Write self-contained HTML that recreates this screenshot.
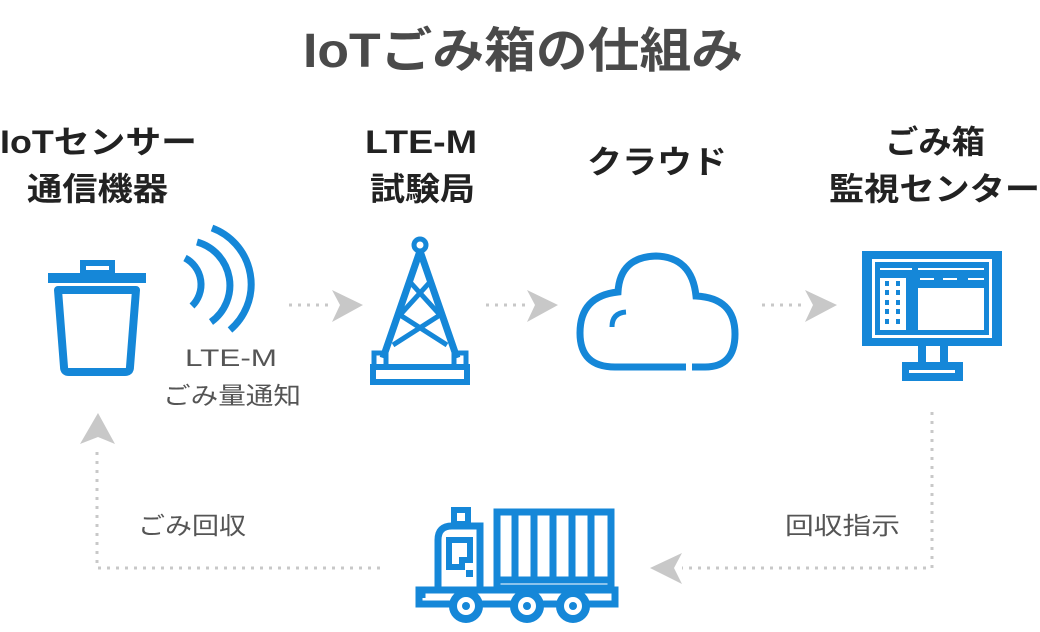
<!DOCTYPE html>
<html><head><meta charset="utf-8"><style>
html,body{margin:0;padding:0;background:#fff;width:1040px;height:632px;overflow:hidden}
svg{display:block}
.h{font-family:"Liberation Sans","Noto Sans CJK JP",sans-serif;font-weight:bold;fill:#222;font-size:32px}
.t{font-family:"Liberation Sans","Noto Sans CJK JP",sans-serif;fill:#555;font-size:24px}
</style></head><body>
<svg width="1040" height="632" viewBox="0 0 1040 632" xmlns="http://www.w3.org/2000/svg">
<text x="303" y="67" textLength="440" lengthAdjust="spacingAndGlyphs" style="font-family:'Liberation Sans','Noto Sans CJK JP',sans-serif;font-weight:bold;font-size:48px;fill:#4a4a4a">IoTごみ箱の仕組み</text>

<text class="h" x="0" y="153" textLength="197" lengthAdjust="spacingAndGlyphs">IoTセンサー</text>
<text class="h" x="27" y="200" textLength="141" lengthAdjust="spacingAndGlyphs">通信機器</text>
<text class="h" x="365" y="153" textLength="112" lengthAdjust="spacingAndGlyphs">LTE-M</text>
<text class="h" x="370" y="200" textLength="105" lengthAdjust="spacingAndGlyphs">試験局</text>
<text class="h" x="587" y="173" textLength="140" lengthAdjust="spacingAndGlyphs">クラウド</text>
<text class="h" x="885" y="153" textLength="100" lengthAdjust="spacingAndGlyphs">ごみ箱</text>
<text class="h" x="829" y="200" textLength="211" lengthAdjust="spacingAndGlyphs">監視センター</text>

<text class="t" x="185" y="366" textLength="92" lengthAdjust="spacingAndGlyphs">LTE-M</text>
<text class="t" x="163" y="404" textLength="138" lengthAdjust="spacingAndGlyphs">ごみ量通知</text>
<text class="t" x="138" y="534" textLength="108" lengthAdjust="spacingAndGlyphs">ごみ回収</text>
<text class="t" x="785" y="534" textLength="115" lengthAdjust="spacingAndGlyphs">回収指示</text>

<g stroke="#1587d8" fill="none" stroke-width="7">
<!-- trash -->
<rect x="83" y="263" width="29" height="10" stroke-width="6"/>
<line x1="48" y1="278" x2="146" y2="278" stroke-width="10"/>
<path d="M58 290 L136 290 L130 367 Q130 372 125 372 L69 372 Q64 372 64 367 Z" stroke-width="8" stroke-linejoin="round"/>
<!-- waves -->
<path d="M185 258 A30 30 0 0 1 192 306" />
<path d="M197 242 A45 45 0 0 1 211 322" />
<path d="M212 228 A60 60 0 0 1 230 330" />
<!-- tower -->
<circle cx="420" cy="245" r="6" stroke-width="5"/>
<path d="M420 251 L383 358 M420 251 L457 358" />
<path d="M410 282 L440 315 L393 345 M430 282 L400 315 L447 345" stroke-width="5"/>
<rect x="374" y="353" width="12" height="14" stroke-width="5"/>
<rect x="454" y="353" width="12" height="14" stroke-width="5"/>
<rect x="373" y="367" width="94" height="15" stroke-width="6"/>
<!-- cloud -->
<path d="M690 367 L705 367 Q735 367 735 334 Q735 298 696 296 Q692 257 656 256 Q620 257 618 292 Q580 296 580 333 Q580 367 615 367 L690 367" stroke-width="7"/>
<line x1="689" y1="363" x2="689" y2="371" stroke="#fff" stroke-width="6"/>
<path d="M612 327 Q612 313 626 312" stroke-width="5"/>
</g>
<g fill="#1587d8">
<!-- monitor -->
<rect x="862" y="251" width="140" height="95"/>
<rect x="872" y="259" width="120" height="79" fill="#fff"/>
<rect x="875" y="262" width="114" height="73"/>
<rect x="880" y="278" width="26" height="52" fill="#fff"/>
<g fill="#1587d8"><rect x="885" y="281" width="4" height="5"/><rect x="896" y="281" width="4" height="5"/><rect x="885" y="290" width="4" height="5"/><rect x="896" y="290" width="4" height="5"/><rect x="885" y="300" width="4" height="5"/><rect x="896" y="300" width="4" height="5"/><rect x="885" y="309" width="4" height="5"/><rect x="896" y="309" width="4" height="5"/><rect x="885" y="319" width="4" height="5"/><rect x="896" y="319" width="4" height="5"/></g>
<rect x="918" y="288" width="66" height="42" fill="#fff"/>
<rect x="880" y="268" width="32" height="2" fill="#fff"/>
<rect x="918" y="268" width="66" height="2" fill="#fff"/>
<rect x="920" y="278" width="14" height="2" fill="#fff"/><rect x="943" y="278" width="14" height="2" fill="#fff"/><rect x="968" y="278" width="16" height="2" fill="#fff"/>
<rect x="918" y="346" width="30" height="18"/>
<rect x="926" y="346" width="14" height="16" fill="#fff"/>
<rect x="902" y="362" width="61" height="19"/>
<rect x="909" y="370" width="46" height="3" fill="#fff"/>
</g>
<!-- truck -->
<g stroke="#1587d8" fill="none" stroke-width="7">
<rect x="497" y="512" width="114" height="71"/>
<line x1="515" y1="512" x2="515" y2="580"/><line x1="534" y1="512" x2="534" y2="580"/><line x1="553" y1="512" x2="553" y2="580"/><line x1="572" y1="512" x2="572" y2="580"/><line x1="591" y1="512" x2="591" y2="580"/>
<rect x="497" y="580" width="114" height="8" fill="#fff"/>
<line x1="497" y1="590" x2="611" y2="590" stroke-width="5"/>
<path d="M422 598 L422 590 L438 590 L438 540 Q438 526 452 526 L480 526 L480 590 L497 590"/>
<rect x="454" y="510" width="14" height="14" stroke-width="6"/>
<path d="M449 540 L470 540 L470 560 L462 560 L462 567 L449 567 Z" stroke-width="6"/>
<rect x="466" y="570" width="7" height="7" fill="#1587d8" stroke="none"/>
<rect x="419" y="590" width="196" height="14"/>
<circle cx="466" cy="606" r="13" fill="#fff" stroke-width="8"/><circle cx="466" cy="606" r="4" fill="#1587d8" stroke="none"/>
<circle cx="527" cy="606" r="13" fill="#fff" stroke-width="8"/><circle cx="527" cy="606" r="4" fill="#1587d8" stroke="none"/>
<circle cx="573" cy="606" r="13" fill="#fff" stroke-width="8"/><circle cx="573" cy="606" r="4" fill="#1587d8" stroke="none"/>
</g>
<!-- connectors -->
<g stroke="#c8c8c8" stroke-width="3" stroke-dasharray="3 6" fill="none">
<line x1="289" y1="305" x2="332" y2="305"/>
<line x1="486" y1="305" x2="528" y2="305"/>
<line x1="762" y1="305" x2="805" y2="305"/>
<path d="M932 412 L932 568 L682 568"/>
<path d="M380 568 L97 568 L97 446"/>
</g>
<g fill="#c8c8c8">
<path d="M332 290 L363 305 L332 322 L340 305 Z"/>
<path d="M527 290 L558 305 L527 322 L535 305 Z"/>
<path d="M805 290 L837 305 L805 322 L813 305 Z"/>
<path d="M682 553 L650 568 L682 584 L674 568 Z"/>
<path d="M80 444 L98 413 L115 444 L98 437 Z"/>
</g>
</svg>
</body></html>
